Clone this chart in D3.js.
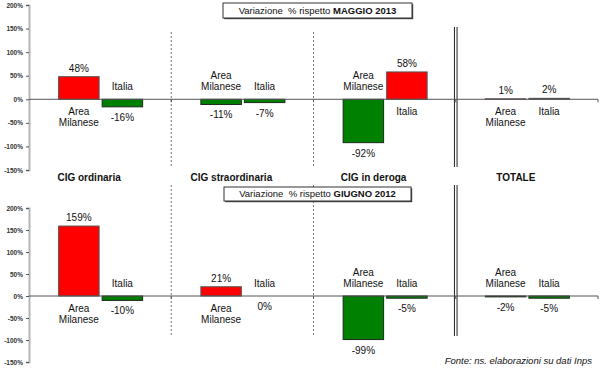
<!DOCTYPE html>
<html>
<head>
<meta charset="utf-8">
<script src="https://cdn.jsdelivr.net/npm/d3@7/dist/d3.min.js"></script>
<style>
  html, body { margin: 0; padding: 0; background: #fff; }
  svg { display: block; font-family: 'Liberation Sans', Arial, sans-serif; }
</style>
</head>
<body>
<div id="chart"></div>
<script>
// categories and series
const categories = ['CIG ordinaria', 'CIG straordinaria', 'CIG in deroga', 'TOTALE'];
const series = ['Area Milanese', 'Italia'];
const yTicks = [200, 150, 100, 50, 0, -50, -100, -150];

// % change vs May 2013
const maggioAreaMilanese = [48, -11, -92, 1];
const maggioItalia = [-16, -7, 58, 2];
// % change vs June 2012
const giugnoAreaMilanese = [159, 21, -99, -2];
const giugnoItalia = [-10, 0, -5, -5];

const width = 600, height = 371;

const svg = d3.select('#chart').append('svg')
  .attr('width', width)
  .attr('height', height);

const x = d3.scaleBand().domain(categories).range([29, 598]);
const bw = x.bandwidth();
const inner = d3.scaleBand().domain(series)
  .range([bw / 2 - 41.5, bw / 2 + 42.5])
  .paddingInner(0.07);

const panels = [
  {
    am: maggioAreaMilanese, it: maggioItalia,
    yRange: [170, 5], sepRange: [32, 168], dblRange: [27, 167],
    title: ['Variazione  % rispetto ', 'MAGGIO 2013'], box: { x: 223, y: 3, w: 189, h: 15 },
    showCats: true
  },
  {
    am: giugnoAreaMilanese, it: giugnoItalia,
    yRange: [362, 208], sepRange: [185, 336], dblRange: [185, 336],
    title: ['Variazione  % rispetto ', 'GIUGNO 2012'], box: { x: 224, y: 187, w: 187, h: 14 },
    showCats: false
  }
];

function drawPanel(p) {
  const y = d3.scaleLinear().domain([-150, 200]).range(p.yRange);
  const zero = y(0);
  const g = svg.append('g');

  // separators between the groups (dashed, last one a double line)
  categories.slice(1).forEach((c, i) => {
    const sx = x(c);
    if (i < 2) {
      g.append('line')
        .attr('x1', sx).attr('x2', sx)
        .attr('y1', p.sepRange[0]).attr('y2', p.sepRange[1])
        .attr('stroke', '#777').attr('stroke-dasharray', '2,2');
    } else {
      [-1.3, 1.3].forEach(off => {
        g.append('line')
          .attr('x1', sx + off).attr('x2', sx + off)
          .attr('y1', p.dblRange[0]).attr('y2', p.dblRange[1])
          .attr('stroke', '#222').attr('stroke-width', 1);
      });
    }
  });

  // y axis
  const yAxis = g.append('g')
    .attr('transform', 'translate(29,0)')
    .call(d3.axisLeft(y).tickValues(yTicks).tickFormat(d => d + '%').tickSize(3).tickPadding(3));
  yAxis.select('.domain').attr('stroke', '#b5b5b5').attr('stroke-width', 2);
  yAxis.selectAll('.tick line').attr('stroke', '#555');
  yAxis.selectAll('.tick text')
    .attr('font-size', '6.5px').attr('font-weight', 'bold').attr('fill', '#333')
    .attr('font-family', "'Liberation Sans', Arial, sans-serif");

  // bars
  const rows = [];
  categories.forEach((c, i) => {
    rows.push({ cat: c, s: series[0], v: p.am[i] });
    rows.push({ cat: c, s: series[1], v: p.it[i] });
  });

  g.selectAll('rect.bar').data(rows).enter().append('rect')
    .attr('class', 'bar')
    .attr('x', d => x(d.cat) + inner(d.s))
    .attr('width', inner.bandwidth())
    .attr('y', d => Math.min(y(d.v), zero))
    .attr('height', d => Math.abs(y(d.v) - zero))
    .attr('fill', d => d.v > 0 ? '#ff0000' : '#008000')
    .attr('stroke', d => d.v > 0 ? '#555' : '#1a2a1a')
    .attr('stroke-width', 1);

  // zero line with small ticks at the group boundaries
  g.append('line')
    .attr('x1', 29).attr('x2', 598)
    .attr('y1', zero).attr('y2', zero)
    .attr('stroke', '#555');
  categories.forEach(c => {
    const tx = x(c) + bw;
    g.append('line')
      .attr('x1', tx).attr('x2', tx)
      .attr('y1', zero).attr('y2', zero + 3)
      .attr('stroke', '#555');
  });

  // value labels
  g.selectAll('text.val').data(rows).enter().append('text')
    .attr('class', 'val')
    .attr('x', d => x(d.cat) + inner(d.s) + inner.bandwidth() / 2)
    .attr('y', d => d.v > 0 ? y(d.v) - 5 : y(d.v) + 14)
    .attr('text-anchor', 'middle')
    .attr('font-size', '10px')
    .attr('fill', '#111')
    .text(d => d.v + '%');

  // series name labels
  rows.forEach(d => {
    const lines = d.s === 'Area Milanese' ? ['Area', 'Milanese'] : ['Italia'];
    const cx = x(d.cat) + inner(d.s) + inner.bandwidth() / 2;
    lines.forEach((t, k) => {
      let ty;
      if (d.v > 0) ty = zero + 15.5 + k * 11.5;
      else ty = zero - 9 - (lines.length - 1 - k) * 11.5;
      g.append('text')
        .attr('x', cx).attr('y', ty)
        .attr('text-anchor', 'middle')
        .attr('font-size', '10px')
        .attr('fill', '#111')
        .text(t);
    });
  });

  // category labels
  if (p.showCats) {
    g.selectAll('text.cat').data(categories).enter().append('text')
      .attr('class', 'cat')
      .attr('x', d => x(d) + bw / 2 - 11)
      .attr('y', 181)
      .attr('text-anchor', 'middle')
      .attr('font-size', '10px')
      .attr('font-weight', 'bold')
      .attr('fill', '#111')
      .text(d => d);
  }

  // title box
  const b = p.box;
  g.append('rect')
    .attr('x', b.x + 1.2).attr('y', b.y + 1.2)
    .attr('width', b.w).attr('height', b.h)
    .attr('fill', '#444');
  g.append('rect')
    .attr('x', b.x).attr('y', b.y)
    .attr('width', b.w).attr('height', b.h)
    .attr('fill', '#fff').attr('stroke', '#333').attr('stroke-width', 1);
  const tt = g.append('text')
    .attr('x', b.x + b.w / 2).attr('y', b.y + b.h / 2 + 3.3)
    .attr('text-anchor', 'middle')
    .attr('font-size', '9.5px')
    .attr('fill', '#111');
  tt.append('tspan').text(p.title[0]).style('white-space', 'pre');
  tt.append('tspan').attr('font-weight', 'bold').text(p.title[1]);
}

panels.forEach(drawPanel);

// source note
svg.append('text')
  .attr('x', 592).attr('y', 364)
  .attr('text-anchor', 'end')
  .attr('font-size', '9.5px')
  .attr('font-style', 'italic')
  .attr('fill', '#111')
  .text('Fonte: ns. elaborazioni su dati Inps');
</script>
</body>
</html>
